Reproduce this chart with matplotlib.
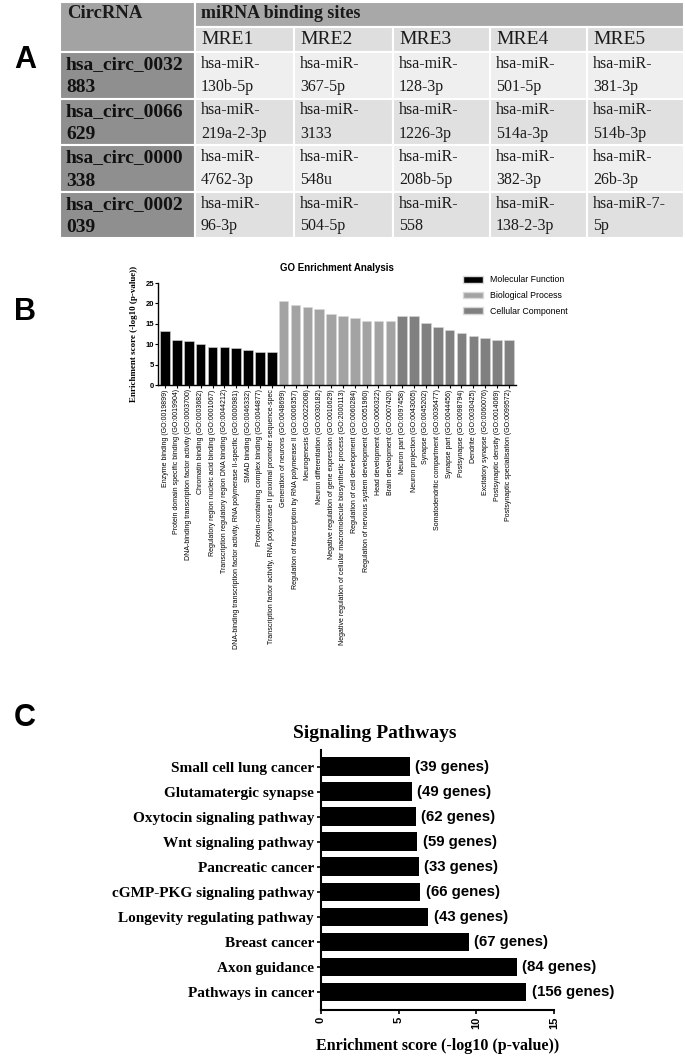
import matplotlib
matplotlib.use("Agg")
import matplotlib.pyplot as plt
from matplotlib.patches import Rectangle, Patch

# ---------------- Data ----------------
circ_names = ["hsa_circ_0032883", "hsa_circ_0066629", "hsa_circ_0000338", "hsa_circ_0002039"]
mre_headers = ["MRE1", "MRE2", "MRE3", "MRE4", "MRE5"]
mirnas = [
    ["hsa-miR-130b-5p", "hsa-miR-367-5p", "hsa-miR-128-3p", "hsa-miR-501-5p", "hsa-miR-381-3p"],
    ["hsa-miR-219a-2-3p", "hsa-miR-3133", "hsa-miR-1226-3p", "hsa-miR-514a-3p", "hsa-miR-514b-3p"],
    ["hsa-miR-4762-3p", "hsa-miR-548u", "hsa-miR-208b-5p", "hsa-miR-382-3p", "hsa-miR-26b-3p"],
    ["hsa-miR-96-3p", "hsa-miR-504-5p", "hsa-miR-558", "hsa-miR-138-2-3p", "hsa-miR-7-5p"],
]

mf_terms = [
    "Enzyme binding (GO:0019899)",
    "Protein domain specific binding (GO:0019904)",
    "DNA-binding transcription factor activity (GO:0003700)",
    "Chromatin binding (GO:0003682)",
    "Regulatory region nucleic acid binding (GO:0001067)",
    "Transcription regulatory region DNA binding (GO:0044212)",
    "DNA-binding transcription factor activity, RNA polymerase II-specific (GO:0000981)",
    "SMAD binding (GO:0046332)",
    "Protein-containing complex binding (GO:0044877)",
    "Transcription factor activity, RNA polymerase II proximal promoter sequence-spec",
]
mf_scores = [13.2, 11.0, 10.7, 10.1, 9.3, 9.3, 9.1, 8.5, 8.0, 8.0]

bp_terms = [
    "Generation of neurons (GO:0048699)",
    "Regulation of transcription by RNA polymerase II (GO:0006357)",
    "Neurogenesis (GO:0022008)",
    "Neuron differentiation (GO:0030182)",
    "Negative regulation of gene expression (GO:0010629)",
    "Negative regulation of cellular macromolecule biosynthetic process (GO:2000113)",
    "Regulation of cell development (GO:0060284)",
    "Regulation of nervous system development (GO:0051960)",
    "Head development (GO:0060322)",
    "Brain development (GO:0007420)",
]
bp_scores = [20.7, 19.5, 19.2, 18.7, 17.3, 17.0, 16.5, 15.8, 15.7, 15.7]

cc_terms = [
    "Neuron part (GO:0097458)",
    "Neuron projection (GO:0043005)",
    "Synapse (GO:0045202)",
    "Somatodendritic compartment (GO:0036477)",
    "Synapse part (GO:0044456)",
    "Postsynapse (GO:0098794)",
    "Dendrite (GO:0030425)",
    "Excitatory synapse (GO:0060076)",
    "Postsynaptic density (GO:0014069)",
    "Postsynaptic specialisation (GO:0099572)",
]
cc_scores = [16.8, 16.8, 15.2, 14.1, 13.4, 12.8, 11.9, 11.5, 11.0, 11.0]

pathways = [
    "Small cell lung cancer", "Glutamatergic synapse", "Oxytocin signaling pathway",
    "Wnt signaling pathway", "Pancreatic cancer", "cGMP-PKG signaling pathway",
    "Longevity regulating pathway", "Breast cancer", "Axon guidance", "Pathways in cancer",
]
pathway_scores = [5.7, 5.85, 6.1, 6.2, 6.3, 6.4, 6.9, 9.5, 12.6, 13.2]
pathway_genes = [39, 49, 62, 59, 33, 66, 43, 67, 84, 156]

# ---------------- Figure ----------------
W, H = 685, 1061
fig = plt.figure(figsize=(W / 100, H / 100), dpi=100)

serif = "Liberation Serif"
sans = "Liberation Sans"

# ---------------- Panel A: table ----------------
axA = fig.add_axes([0, 0, 1, 1])
axA.set_xlim(0, W)
axA.set_ylim(H, 0)
axA.axis("off")
axA.set_zorder(0)

col_edges = [60, 195, 294, 393, 490, 587, 684]
hdr_h = 25
row_h = 46.5
top = 2
row_edges = [top, top + hdr_h, top + 2 * hdr_h] + [top + 2 * hdr_h + (i + 1) * row_h for i in range(4)]

def wrap(s, width):
    parts = s.split("-")
    toks = [p + "-" for p in parts[:-1]] + [parts[-1]]
    lines, cur = [], ""
    for t in toks:
        if cur and len(cur) + len(t) > width:
            lines.append(cur)
            cur = t
        else:
            cur += t
    lines.append(cur)
    return lines

def cell(x0, x1, y0, y1, color):
    axA.add_patch(Rectangle((x0, y0), x1 - x0, y1 - y0, facecolor=color,
                            edgecolor="white", linewidth=1.5))

# header
cell(col_edges[0], col_edges[1], row_edges[0], row_edges[2], "#a3a3a3")
cell(col_edges[1], col_edges[-1], row_edges[0], row_edges[1], "#a8a8a8")
axA.text(col_edges[0] + 7, row_edges[0] + 12, "CircRNA", family=serif, weight="bold",
         fontsize=13.5, va="center", ha="left", color="#1a1a1a")
axA.text(col_edges[1] + 6, row_edges[0] + 12, "miRNA binding sites", family=serif,
         weight="bold", fontsize=13, va="center", ha="left", color="#1a1a1a")
for j, h in enumerate(mre_headers):
    cell(col_edges[j + 1], col_edges[j + 2], row_edges[1], row_edges[2], "#dedede")
    axA.text(col_edges[j + 1] + 6, row_edges[1] + 13, h, family=serif, fontsize=14,
             va="center", ha="left", color="#1a1a1a")

row_colors = ["#efefef", "#e0e0e0", "#efefef", "#e0e0e0"]
for i, name in enumerate(circ_names):
    y0, y1 = row_edges[i + 2], row_edges[i + 3]
    cell(col_edges[0], col_edges[1], y0, y1, "#8f8f8f")
    axA.text(col_edges[0] + 6, y0 + 13, name[:13], family=serif, weight="bold",
             fontsize=14, va="center", ha="left", color="#111111")
    axA.text(col_edges[0] + 6, y0 + 36, name[13:], family=serif, weight="bold",
             fontsize=14, va="center", ha="left", color="#111111")
    for j in range(5):
        cell(col_edges[j + 1], col_edges[j + 2], y0, y1, row_colors[i])
        lines = wrap(mirnas[i][j], 10)
        for k, ln in enumerate(lines):
            axA.text(col_edges[j + 1] + 6, y0 + 12 + 23 * k, ln, family=serif,
                     fontsize=11.5, va="center", ha="left", color="#1a1a1a")

# panel letters
for letter, (x, y) in {"A": (25, 60), "B": (25, 312), "C": (25, 718)}.items():
    fig.text(x / W, 1 - y / H, letter, family=sans, weight="bold", fontsize=22,
             ha="center", va="center")

# ---------------- Panel B: GO bar chart ----------------
left, right, bot, topy = 158, 516, 385, 283
axB = fig.add_axes([left / W, 1 - bot / H, (right - left) / W, (bot - topy) / H])
terms = mf_terms + bp_terms + cc_terms
scores = mf_scores + bp_scores + cc_scores
colors = ["#000000"] * len(mf_terms) + ["#a3a3a3"] * len(bp_terms) + ["#808080"] * len(cc_terms)
xpos = list(range(len(terms)))
axB.bar(xpos, scores, width=0.8, color=colors, edgecolor="#d8d8d8", linewidth=0.4)
axB.set_xlim(-0.6, len(terms) - 0.4)
axB.set_ylim(0, 25)
axB.set_yticks([0, 5, 10, 15, 20, 25])
axB.set_xticks(xpos)
axB.set_xticklabels(terms, rotation=90, family=sans, fontsize=5, ha="center", va="top")
for lab in axB.get_yticklabels():
    lab.set_family(sans)
    lab.set_fontsize(5.5)
    lab.set_weight("bold")
axB.tick_params(axis="both", length=2, width=0.8, pad=1)
axB.spines["top"].set_visible(False)
axB.spines["right"].set_visible(False)
axB.spines["left"].set_linewidth(1)
axB.spines["bottom"].set_linewidth(1)
axB.set_ylabel("Enrichment score (-log10 (p-value))", family=serif, weight="bold",
               fontsize=6.5, labelpad=5)
fig.text(337 / W, 1 - 268 / H, "GO Enrichment Analysis", family=sans, weight="bold",
         fontsize=7, ha="center", va="center")
handles = [Patch(facecolor="#000000", edgecolor="#d8d8d8"),
           Patch(facecolor="#a3a3a3", edgecolor="#d8d8d8"),
           Patch(facecolor="#808080", edgecolor="#d8d8d8")]
leg = fig.legend(handles, ["Molecular Function", "Biological Process", "Cellular Component"],
                 loc="upper left", bbox_to_anchor=(460 / W, 1 - 272 / H), frameon=False,
                 prop={"family": sans, "size": 6.3}, handlelength=2.2, handleheight=0.8,
                 labelspacing=0.75, handletextpad=0.8, borderaxespad=0)

# ---------------- Panel C: signaling pathways ----------------
cl, cr, cb, ct = 321, 554, 1010, 750
axC = fig.add_axes([cl / W, 1 - cb / H, (cr - cl) / W, (cb - ct) / H])
ypos = list(range(len(pathways)))
axC.barh(ypos, pathway_scores, height=0.75, color="black")
axC.set_ylim(len(pathways) - 0.28, -0.67)
axC.set_xlim(0, 15)
axC.set_xticks([0, 5, 10, 15])
axC.set_yticks(ypos)
axC.set_yticklabels(pathways, family=serif, weight="bold", fontsize=11)
for lab in axC.get_xticklabels():
    lab.set_family(sans)
    lab.set_weight("bold")
    lab.set_fontsize(8)
    lab.set_rotation(90)
axC.tick_params(axis="both", length=3, width=1.2, pad=2)
for s in ["top", "right"]:
    axC.spines[s].set_visible(False)
for s in ["left", "bottom"]:
    axC.spines[s].set_linewidth(1.5)
for y, v, g in zip(ypos, pathway_scores, pathway_genes):
    axC.annotate(f"({g} genes)", (v, y), xytext=(4, 0), textcoords="offset points",
                 family=sans, weight="bold", fontsize=10.8, va="center", ha="left",
                 annotation_clip=False)
axC.set_xlabel("Enrichment score (-log10 (p-value))", family=serif, weight="bold",
               fontsize=11.5, labelpad=6)
fig.text(375 / W, 1 - 733 / H, "Signaling Pathways", family=serif, weight="bold",
         fontsize=14, ha="center", va="center")

fig.savefig("out.png", dpi=100)
